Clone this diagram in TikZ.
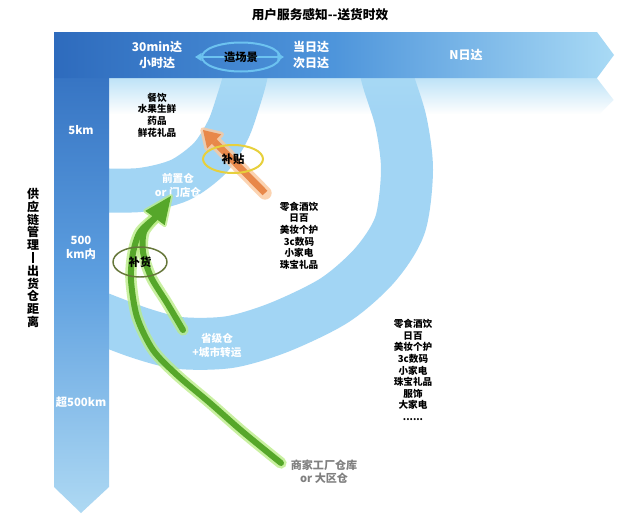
\documentclass[tikz,border=0pt]{standalone}
\usepackage{fontspec}
\setmainfont{Noto Sans CJK SC}
\usetikzlibrary{fadings,shapes.geometric,arrows.meta}
\definecolor{bardark}{HTML}{2E6BBD}
\definecolor{barmid}{HTML}{4E95DB}
\definecolor{barlight}{HTML}{A9DAF5}
\definecolor{vbarmid}{HTML}{5C9EDF}
\definecolor{vbarlight}{HTML}{AED9F3}
\definecolor{bandblue}{HTML}{A2D5F4}
\definecolor{gcore}{HTML}{56A72A}
\definecolor{gglow}{HTML}{B8EC82}
\definecolor{ocore}{HTML}{E8884A}
\definecolor{oglow}{HTML}{FBC89E}
\definecolor{ering}{HTML}{6CC2F0}
\definecolor{yring}{HTML}{E7D03C}
\definecolor{olring}{HTML}{66773A}
\definecolor{greytxt}{HTML}{808080}
\tikzfading[name=fadedown, top color=transparent!25, bottom color=transparent!100]
\tikzset{
  barlbl/.style={font=\bfseries\fontsize{9}{11.5}\selectfont, text=white, align=center, inner sep=0pt},
  vlbl/.style={font=\bfseries\fontsize{8.5}{10}\selectfont, text=white, align=center, inner sep=0pt},
  lst/.style={font=\bfseries\fontsize{7.2}{8.7}\selectfont, text=black, align=center, inner sep=0pt},
  bandlbl/.style={font=\bfseries\fontsize{8}{10.5}\selectfont, text=white, align=center, inner sep=0pt},
  ringlbl/.style={font=\bfseries\fontsize{8.5}{10}\selectfont, text=black, ellipse, inner sep=0pt},
}
\begin{document}
\begin{tikzpicture}[x=0.75pt,y=-0.75pt]
\useasboundingbox (0,0) rectangle (640,525);
\fill[white] (0,0) rectangle (640,525);

% rings
\begin{scope}
\clip (109,78) rectangle (640,525);
\draw[bandblue, line width=33pt] plot[smooth] coordinates {(249,55) (245,78) (238,102) (228,130) (210,158) (180,180) (140,190) (90,190)};
\draw[bandblue, line width=39pt] plot[smooth] coordinates {(382,55) (388,80) (401,122) (407,170) (400,225) (375,265) (335,300) (280,327) (230,342) (180,343) (140,333) (90,314)};
\fill[barlight, path fading=fadedown] (109,78) -- (597,78) -- (614,100) -- (600,114) -- (109,114) -- cycle;
\end{scope}

% left bar
\shade[top color=bardark, bottom color=vbarlight, middle color=vbarmid]
  (54,32) -- (109,32) -- (109,487) -- (81,513) -- (54,487) -- cycle;
% top bar
\shade[left color=bardark, right color=barlight, middle color=barmid]
  (54,32) -- (597,32) -- (614,55) -- (597,78) -- (54,78) -- cycle;

% title
\node[font=\bfseries\fontsize{9.5}{11}\selectfont, inner sep=0pt] (title) at (320,15) {用户服务感知-{}-送货时效};

% top labels
\node[barlbl] (t30) at (157,55) {30min达\\小时达};
\node[barlbl] (tday) at (311,55) {当日达\\次日达};
\node[barlbl] (tn) at (466,55) {N日达};
\coordinate (ea) at (195,57);
\coordinate (eb) at (284,57);
\draw[ering, line width=1.5pt, {Triangle[length=5pt,width=6pt]}-{Triangle[length=5pt,width=6pt]}] (ea) -- (eb);
\node[ringlbl, draw=ering, line width=1.5pt, minimum width=58.5pt, minimum height=21.75pt] (zcj) at (241,57) {造场景};

% left labels
\node[vlbl] (d5) at (81,130) {5km};
\node[vlbl] (d500) at (81,248) {500\\km内};
\node[vlbl] (dfar) at (81,402) {超500km};
\node[font=\bfseries\fontsize{9}{9.6}\selectfont, align=center, inner sep=0pt] (ylab) at (33,258)
  {供\\应\\链\\管\\理\\\rule[-0.5pt]{1.4pt}{8.5pt}\\出\\货\\仓\\距\\离};

% lists
\node[lst] (l1) at (157,115) {餐饮\\水果生鲜\\药品\\鲜花礼品};
\node[lst] (l2) at (299,235.5) {零食酒饮\\日百\\美妆个护\\3c数码\\小家电\\珠宝礼品};
\node[lst] (l3) at (413,370) {零食酒饮\\日百\\美妆个护\\3c数码\\小家电\\珠宝礼品\\服饰\\大家电\\......};

% band labels
\node[bandlbl] (qzc) at (178,185) {前置仓\\or 门店仓};
\node[bandlbl] (sjc) at (217,345) {省级仓\\+城市转运};
\node[font=\bfseries\fontsize{8.3}{10}\selectfont, text=greytxt, align=center, inner sep=0pt] (sjck) at (324,472) {商家工厂仓库\\or 大区仓};

% green arrows
\coordinate (gA) at (281,463);
\coordinate (gB) at (183,330);
\coordinate (gbase) at (155,218);
\coordinate (gtip) at (171,196);
\coordinate (gl) at (145.3,210.9);
\coordinate (gr) at (164.7,225.1);
\draw[gglow, line width=8.5pt, line cap=round, opacity=0.75] plot[smooth] coordinates {(gA) (243,432) (210,403) (177,375) (153,350) (137,317) (131,280) (133,253) (140,232) (gbase)};
\draw[gglow, line width=8.5pt, line cap=round, opacity=0.75] plot[smooth] coordinates {(gB) (167,303) (151,277) (143,252) (144,232) (gbase)};
\filldraw[gglow, line width=3pt, line join=round, opacity=0.75] (gtip) -- (gl) -- (gr) -- cycle;
\draw[gcore, line width=4.5pt, line cap=round] plot[smooth] coordinates {(gA) (243,432) (210,403) (177,375) (153,350) (137,317) (131,280) (133,253) (140,232) (gbase)};
\draw[gcore, line width=4.5pt, line cap=round] plot[smooth] coordinates {(gB) (167,303) (151,277) (143,252) (144,232) (gbase)};
\fill[gcore] (gtip) -- (gl) -- (gr) -- cycle;

% orange arrow
\coordinate (oA) at (265,193);
\coordinate (obase) at (214.2,141.4);
\coordinate (otip) at (203,130);
\coordinate (ol) at (221.3,134.4);
\coordinate (or) at (207.1,148.4);
\draw[oglow, line width=10pt, line cap=round, opacity=0.8] (oA) -- (obase);
\filldraw[oglow, line width=4pt, line join=round, opacity=0.8] (otip) -- (ol) -- (or) -- cycle;
\draw[ocore, line width=5pt] (oA) -- (obase);
\fill[ocore] (otip) -- (ol) -- (or) -- cycle;

% ring labels
\node[ringlbl, draw=yring, line width=1.5pt, minimum width=45pt, minimum height=21pt] (bt) at (233,159) {补贴};
\node[ringlbl, draw=olring, line width=1.1pt, minimum width=40.5pt, minimum height=22.5pt] (bh) at (140,262) {补货};
\end{tikzpicture}
\end{document}
